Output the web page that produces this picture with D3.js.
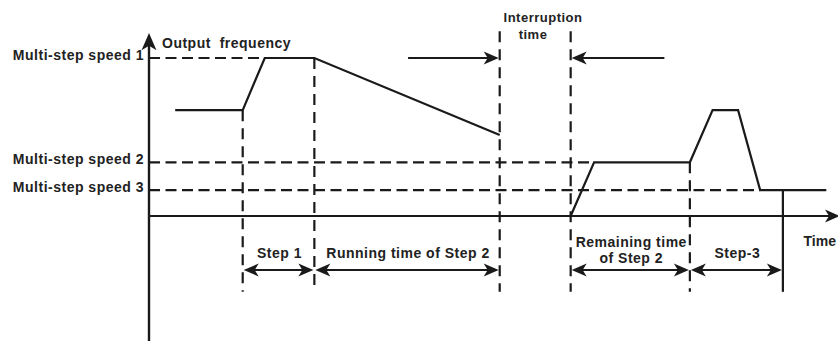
<!DOCTYPE html>
<html>
<head>
<meta charset="utf-8">
<script src="https://cdn.jsdelivr.net/npm/d3@7"></script>
<style>
  html, body { margin: 0; padding: 0; background: #fff; }
  svg { display: block; }
  text { font-family: "Liberation Sans", Arial, sans-serif; font-weight: bold; font-size: 14px; letter-spacing: 0.5px; fill: #222; }
</style>
</head>
<body>
<svg id="chart" width="838" height="341"></svg>
<script>
// ---------- data (time in arbitrary units, frequency in Hz) ----------
const speedLabels = ["Multi-step speed 1", "Multi-step speed 2", "Multi-step speed 3"];
const speedValues = [50, 17, 8.2];
const speedDashEnd = [16.8, 64.6, 88.7];          // time where each reference dash meets the curve

// output frequency curve, before and after the interruption
const curveBefore = [[3.8, 33.5], [13.6, 33.5], [16.8, 50], [24.0, 50], [50.9, 25.6]];
const curveAfter  = [[61.2, 0], [64.6, 17], [78.5, 17], [81.8, 33.5], [85.5, 33.5], [88.7, 8.2], [98.3, 8.2]];

// vertical boundary lines: time, top (Hz), dashed?
const boundaryTimes = [13.6, 24.0, 50.9, 61.2, 78.5, 92.0];
const boundaryTops  = [33.5, 50, 58.5, 58.5, 17, 8.2];
const boundaryDashed = [true, true, true, true, true, false];
const boundaryBottom = -24;

// dimension intervals
const intervalFrom   = [13.6, 24.0, 61.2, 78.5];
const intervalTo     = [24.0, 50.9, 78.5, 92.0];
const intervalLabels = [["Step 1"], ["Running time of Step 2"], ["Remaining time", "of Step 2"], ["Step-3"]];

// interruption arrows
const interruptionArrows = [[37.6, 50.9], [74.8, 61.2]];   // [from, to]
const interruptionLabel = ["Interruption", "time"];

const axisLabelY = "Output  frequency";
const axisLabelX = "Time";

// ---------- scales ----------
const x = d3.scaleLinear().domain([0, 100]).range([149, 838]);
const y = d3.scaleLinear().domain([0, 50]).range([216, 58]);

const svg = d3.select("#chart");
const ink = "#1a1a1a";

// arrowhead path (tip at 0,0 pointing +x)
const headPath = "M0,0 L-15,-6.5 L-11,0 L-15,6.5 Z";
function head(g, px, py, angle, s) {
  g.append("path").attr("d", headPath).attr("fill", ink)
    .attr("transform", `translate(${px},${py}) rotate(${angle}) scale(${s || 1})`);
}

// ---------- reference (speed) dashed lines ----------
svg.append("g").selectAll("line").data(speedValues).join("line")
  .attr("x1", x(0)).attr("x2", (d, i) => x(speedDashEnd[i]))
  .attr("y1", d => y(d)).attr("y2", d => y(d))
  .attr("stroke", ink).attr("stroke-width", 2.2).attr("stroke-dasharray", "11,5.5");

svg.append("g").selectAll("text").data(speedLabels).join("text")
  .attr("x", x(0) - 5).attr("y", (d, i) => y(speedValues[i]) + 2)
  .attr("text-anchor", "end").text(d => d);

// ---------- vertical boundaries ----------
svg.append("g").selectAll("line").data(boundaryTimes).join("line")
  .attr("x1", d => x(d)).attr("x2", d => x(d))
  .attr("y1", (d, i) => y(boundaryTops[i])).attr("y2", y(boundaryBottom))
  .attr("stroke", ink).attr("stroke-width", 2.2)
  .attr("stroke-dasharray", (d, i) => boundaryDashed[i] ? "11,7" : null);

// ---------- axes ----------
const axes = svg.append("g");
axes.append("line").attr("x1", x(0)).attr("x2", x(0)).attr("y1", y(56)).attr("y2", 341)
  .attr("stroke", ink).attr("stroke-width", 2.4);
head(axes, x(0), 33, -90, 1.15);
axes.append("line").attr("x1", x(0)).attr("x2", 830).attr("y1", y(0)).attr("y2", y(0))
  .attr("stroke", ink).attr("stroke-width", 2);
head(axes, 840, y(0), 0);

axes.append("text").attr("x", x(0) + 13).attr("y", 48).attr("xml:space", "preserve")
  .style("white-space", "pre").text(axisLabelY);
axes.append("text").attr("x", 836).attr("y", 246).attr("text-anchor", "end")
  .style("letter-spacing", "0px").text(axisLabelX);

// ---------- frequency curve ----------
const line = d3.line().x(d => x(d[0])).y(d => y(d[1]));
svg.append("g").selectAll("path").data([curveBefore, curveAfter]).join("path")
  .attr("d", line).attr("fill", "none").attr("stroke", ink).attr("stroke-width", 2.2)
  .attr("stroke-linejoin", "miter");

// ---------- dimension arrows ----------
const dimY = 270;
const dims = svg.append("g");
intervalFrom.forEach((f, i) => {
  const x1 = x(f) + 1, x2 = x(intervalTo[i]) - 1;
  dims.append("line").attr("x1", x1 + 8).attr("x2", x2 - 8).attr("y1", dimY).attr("y2", dimY)
    .attr("stroke", ink).attr("stroke-width", 2);
  head(dims, x1, dimY, 180);
  head(dims, x2, dimY, 0);
  const lines = intervalLabels[i];
  const cx = (x(f) + x(intervalTo[i])) / 2 + 1;
  lines.forEach((t, j) => {
    const by = lines.length > 1 ? dimY - 7 - (lines.length - 1 - j) * 16 : dimY - 12;
    dims.append("text").attr("x", cx).attr("y", by)
      .attr("text-anchor", "middle").text(t);
  });
});

// ---------- interruption arrows ----------
const intY = y(50);
interruptionArrows.forEach(([f, t]) => {
  const dir = t > f ? 1 : -1;
  dims.append("line").attr("x1", x(f)).attr("x2", x(t) - dir * 8).attr("y1", intY).attr("y2", intY)
    .attr("stroke", ink).attr("stroke-width", 2);
  head(dims, x(t) - dir * 1, intY, dir > 0 ? 0 : 180);
});
dims.append("text").attr("x", 543).attr("y", 22).attr("text-anchor", "middle")
  .style("font-size", "13px").text(interruptionLabel[0]);
dims.append("text").attr("x", 533).attr("y", 39).attr("text-anchor", "middle")
  .style("font-size", "13px").text(interruptionLabel[1]);
</script>
</body>
</html>
